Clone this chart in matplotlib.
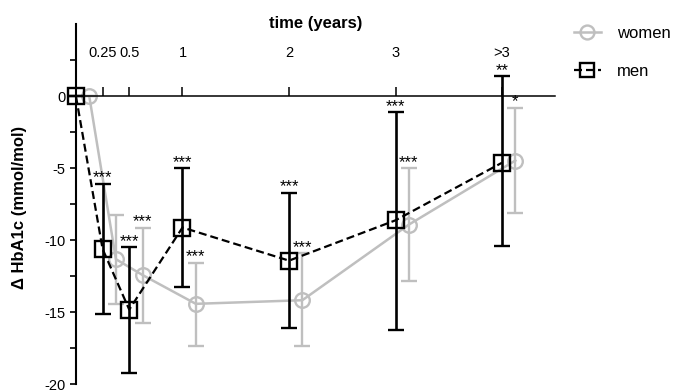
import numpy as np
import matplotlib
matplotlib.use("Agg")
from matplotlib import pyplot as plt
from matplotlib.lines import Line2D

plt.rcParams['font.family'] = ['Liberation Sans', 'DejaVu Sans']

# time points (years), ">3" is drawn at 4
time_pos = [0, 0.25, 0.5, 1, 2, 3, 4]
tick_pos = [0.25, 0.5, 1, 2, 3, 4]
tick_labels = ['0.25', '0.5', '1', '2', '3', '>3']

women_mean = [0, -11.3, -12.4, -14.4, -14.15, -8.9, -4.45]
women_lo = [0, -14.4, -15.7, -17.3, -17.3, -12.8, -8.1]
women_hi = [0, -8.2, -9.1, -11.55, -10.9, -5.0, -0.8]
women_stars = ['', '', '***', '***', '***', '***', '*']

men_mean = [0, -10.6, -14.8, -9.1, -11.4, -8.6, -4.6]
men_lo = [0, -15.1, -19.2, -13.2, -16.1, -16.2, -10.4]
men_hi = [0, -6.05, -10.47, -5.0, -6.7, -1.1, 1.4]
men_stars = ['', '***', '***', '***', '***', '***', '**']

GREY = '#bfbfbf'
dodge = 0.125

fig = plt.figure(figsize=(6.75, 3.92), dpi=100)
ax = fig.add_axes([0.0968, 0.0082, 0.7416, 0.9367])
ax.set_xlim(-0.1, 4.6)
ax.set_ylim(-20.3, 5.2)

xw = np.array(time_pos) + dodge
xm = np.array(time_pos)

wm = np.array(women_mean)
werr = [wm - np.array(women_lo), np.array(women_hi) - wm]
mm = np.array(men_mean)
merr = [mm - np.array(men_lo), np.array(men_hi) - mm]

ax.errorbar(xw, wm, yerr=werr, color=GREY, lw=1.8, marker='o', ms=10.5,
            mfc='none', mec=GREY, mew=1.7, elinewidth=1.7, capsize=6,
            capthick=1.7, clip_on=False, zorder=2)
ax.errorbar(xm, mm, yerr=merr, color='black', lw=1.6, ls=(0, (3.6, 1.8)),
            marker='s', ms=11, mfc='none', mec='black', mew=1.7,
            elinewidth=1.9, capsize=6, capthick=1.9, clip_on=False, zorder=3)

for x, h, s in zip(xw, women_hi, women_stars):
    if s:
        ax.annotate(s, (x, h), xytext=(0, 1), textcoords='offset points',
                    ha='center', va='baseline', fontsize=12)
for x, h, s in zip(xm, men_hi, men_stars):
    if s:
        ax.annotate(s, (x, h), xytext=(0, 1), textcoords='offset points',
                    ha='center', va='baseline', fontsize=12)

# axes styling
for side in ['right', 'bottom']:
    ax.spines[side].set_visible(False)
ax.spines['left'].set_position(('data', 0))
ax.spines['top'].set_position(('data', 0))
ax.spines['left'].set_bounds(-20, 5)
ax.spines['top'].set_bounds(0, 4.5)
ax.spines['left'].set_linewidth(1.5)
ax.spines['top'].set_linewidth(1.1)

ax.xaxis.set_ticks_position('top')
ax.xaxis.set_label_position('top')
ax.set_xticks(tick_pos)
ax.set_xticklabels(tick_labels, fontsize=10.5)
ax.tick_params(axis='x', direction='out', length=6.5, width=1.1, pad=20)
ax.set_xlabel('time (years)', fontsize=12, fontweight='bold', labelpad=13)

ax.set_yticks([0, -5, -10, -15, -20])
ax.set_yticklabels(['0', '-5', '-10', '-15', '-20'], fontsize=10.5)
ax.set_yticks([2.5, -2.5, -7.5, -12.5, -17.5], minor=True)
ax.tick_params(axis='y', which='both', direction='out', length=4.5, width=1.2, pad=3)
fig.text(20 / 675, 1 - 207 / 392, 'Δ HbA1c (mmol/mol)', rotation=90,
         ha='center', va='center', fontsize=12, fontweight='bold')

handles = [Line2D([], [], color=GREY, lw=1.8, marker='o', ms=10, mfc='none', mew=1.7),
           Line2D([], [], color='black', lw=1.6, ls=(0, (3.6, 1.8)), marker='s',
                  ms=10, mfc='none', mew=1.7)]
fig.legend(handles, ['women', 'men'], loc='upper left',
           bbox_to_anchor=(574 / 675, 1 - 26 / 392), frameon=False, fontsize=12,
           handlelength=1.6, handletextpad=1.0, labelspacing=1.35,
           borderpad=0, borderaxespad=0)

fig.savefig('out.png', dpi=100)
